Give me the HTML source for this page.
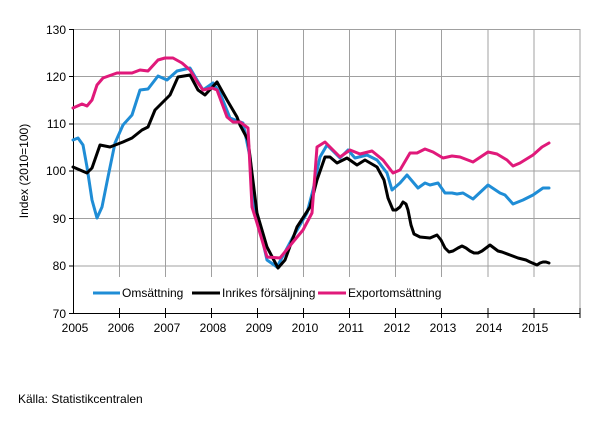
<!DOCTYPE html>
<html><head><meta charset="utf-8"><style>
body{margin:0;background:#fff;width:605px;height:416px;overflow:hidden}
svg{font-family:"Liberation Sans",sans-serif;font-size:12px}
</style></head><body>
<svg width="605" height="416" viewBox="0 0 605 416">
<g stroke="#a0a0a0" stroke-width="1">
<line x1="73" y1="29.5" x2="580" y2="29.5"/>
<line x1="73" y1="76.5" x2="580" y2="76.5"/>
<line x1="73" y1="124" x2="580" y2="124"/>
<line x1="73" y1="171" x2="580" y2="171"/>
<line x1="73" y1="218.5" x2="580" y2="218.5"/>
<line x1="73" y1="266" x2="580" y2="266"/>
<line x1="119.5" y1="29" x2="119.5" y2="313"/>
<line x1="165.5" y1="29" x2="165.5" y2="313"/>
<line x1="211.5" y1="29" x2="211.5" y2="313"/>
<line x1="257.5" y1="29" x2="257.5" y2="313"/>
<line x1="303.5" y1="29" x2="303.5" y2="313"/>
<line x1="349.5" y1="29" x2="349.5" y2="313"/>
<line x1="395.5" y1="29" x2="395.5" y2="313"/>
<line x1="441.5" y1="29" x2="441.5" y2="313"/>
<line x1="488" y1="29" x2="488" y2="313"/>
<line x1="534" y1="29" x2="534" y2="313"/>
<line x1="580" y1="29" x2="580" y2="313"/>
</g>
<rect x="74" y="277" width="505" height="35.5" fill="#fff"/>
<g stroke="#000" stroke-width="1">
<line x1="73.5" y1="29" x2="73.5" y2="313"/>
<line x1="73" y1="313.5" x2="580" y2="313.5"/>
<line x1="69" y1="29.5" x2="73" y2="29.5"/><line x1="69" y1="76.5" x2="73" y2="76.5"/>
<line x1="69" y1="124" x2="73" y2="124"/><line x1="69" y1="171" x2="73" y2="171"/>
<line x1="69" y1="218.5" x2="73" y2="218.5"/><line x1="69" y1="266" x2="73" y2="266"/>
<line x1="69" y1="313.5" x2="73" y2="313.5"/>
<line x1="119.5" y1="308" x2="119.5" y2="318"/><line x1="165.5" y1="308" x2="165.5" y2="318"/>
<line x1="211.5" y1="308" x2="211.5" y2="318"/><line x1="257.5" y1="308" x2="257.5" y2="318"/>
<line x1="303.5" y1="308" x2="303.5" y2="318"/><line x1="349.5" y1="308" x2="349.5" y2="318"/>
<line x1="395.5" y1="308" x2="395.5" y2="318"/><line x1="441.5" y1="308" x2="441.5" y2="318"/>
<line x1="488" y1="308" x2="488" y2="318"/><line x1="534" y1="308" x2="534" y2="318"/>
<line x1="580" y1="308" x2="580" y2="318"/>
</g>
<g fill="#000" text-anchor="end">
<text x="66" y="34">130</text><text x="66" y="81">120</text><text x="66" y="128">110</text>
<text x="66" y="175">100</text><text x="66" y="223">90</text><text x="66" y="270">80</text><text x="66" y="318">70</text>
</g>
<g fill="#000" text-anchor="middle">
<text x="75" y="332">2005</text><text x="121" y="332">2006</text><text x="167" y="332">2007</text>
<text x="213" y="332">2008</text><text x="259" y="332">2009</text><text x="305" y="332">2010</text>
<text x="351" y="332">2011</text><text x="397" y="332">2012</text><text x="443" y="332">2013</text>
<text x="489" y="332">2014</text><text x="535" y="332">2015</text>
</g>
<text transform="translate(28,171) rotate(-90)" text-anchor="middle" fill="#000">Index (2010=100)</text>
<text x="18" y="403" fill="#000">Källa: Statistikcentralen</text>
<g fill="none" stroke-width="3" stroke-linejoin="round" stroke-linecap="round">
<polyline stroke="#1f8dd6" points="73,140 78,138 83,145 87,167 92,200 97,218 102,207 108,177 115,143 123,125 132,115 140,90 148,89 158,76 167,80 177,71 190,68 197,80 203,90 213,83 220,93 230,118 243,123 250,157 255,207 267,260 277,267 293,237 307,213 313,190 320,157 327,145 340,158 348,150 355,158 367,155 377,160 387,173 392,190 400,183 407,175 418,188 425,183 430,185 438,183 445,193 452,193 457,194 463,193 473,199 488,185 500,193 505,195 513,204 523,200 533,195 543,188 549,188"/>
<polyline stroke="#000" points="73,167 87,173 92,168 100,145 110,147 123,142 132,138 142,130 148,127 155,110 165,100 170,95 178,77 190,75 198,90 205,95 217,82 227,100 237,117 240,125 248,140 252,173 257,213 267,247 278,268 285,260 297,227 310,207 317,180 325,157 330,157 337,163 347,158 357,165 365,160 377,167 384,180 388,198 393,210 396,210 400,207 403,202 406,204 408,210 411,225 414,234 420,237 430,238 437,235 441,240 445,248 449,252 453,251 458,248 462,246 466,248 470,251 474,253 478,253 482,251 486,248 490,245 494,248 498,251 502,252 510,255 518,258 526,260 530,262 537,265 540,263 543,262 546,262 549,263"/>
<polyline stroke="#e0197a" points="73,108 82,104 87,106 92,100 97,85 103,78 117,73 132,73 140,70 148,71 158,60 165,58 173,58 182,63 190,70 198,83 203,90 212,88 217,90 227,117 233,122 240,122 248,128 252,207 257,223 267,257 280,258 293,242 303,230 312,213 317,147 325,142 340,157 350,150 360,154 372,151 383,160 393,173 400,170 410,153 417,153 425,149 433,152 443,158 452,156 460,157 473,162 488,152 497,154 507,160 513,166 520,163 533,155 542,147 549,143"/>
</g>
<g stroke-width="3">
<line x1="93" y1="293" x2="120" y2="293" stroke="#1f8dd6"/>
<line x1="192" y1="293" x2="220" y2="293" stroke="#000"/>
<line x1="318" y1="293" x2="346" y2="293" stroke="#e0197a"/>
</g>
<g fill="#000">
<text x="122" y="297">Omsättning</text>
<text x="222" y="297">Inrikes försäljning</text>
<text x="348" y="297">Exportomsättning</text>
</g>
</svg>
</body></html>
